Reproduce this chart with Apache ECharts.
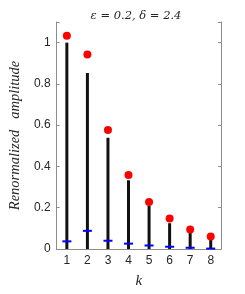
<!DOCTYPE html>
<html><head><meta charset="utf-8">
<script src="https://cdn.jsdelivr.net/npm/echarts@6/dist/echarts.min.js"></script>
<style>html,body{margin:0;padding:0;background:#fff}#c{width:245px;height:294px}</style>
</head><body><div id="c"></div>
<script>
var categories = ['1','2','3','4','5','6','7','8'];
var stemValues = [1.0, 0.853, 0.539, 0.333, 0.209, 0.125, 0.079, 0.046];
var redValues = [1.033, 0.942, 0.577, 0.358, 0.228, 0.148, 0.094, 0.060];
var blueValues = [0.037, 0.088, 0.040, 0.026, 0.017, 0.011, 0.006, 0.002];
var yTicks = [0, 0.2, 0.4, 0.6, 0.8, 1];

var axisCol = '#8c8c8c';
var labCol = '#262626';
var chart = echarts.init(document.getElementById('c'), null, {renderer:'canvas'});
chart.setOption({
  animation: false,
  title: {
    text: 'ε = 0.2, δ = 2.4', left: 131, top: 5, textAlign: 'center',
    textStyle: {fontFamily: 'DejaVu Serif', fontStyle: 'italic', fontWeight: 'normal', fontSize: 11.5, color: '#262626'}
  },
  grid: {left: 40, right: 24, top: 22, bottom: 35},
  xAxis: [{
    type: 'category', data: categories, position: 'bottom',
    name: 'k', nameLocation: 'middle', nameGap: 25,
    nameTextStyle: {fontFamily: 'Liberation Serif', fontStyle: 'italic', fontSize: 15, color: '#262626'},
    axisLine: {lineStyle: {color: axisCol, width: 1}},
    axisTick: {inside: true, alignWithLabel: true, length: 3, lineStyle: {color: axisCol}},
    axisLabel: {color: labCol, fontSize: 12, fontFamily: 'Liberation Sans', margin: 6},
    splitLine: {show: false}
  }, {
    type: 'category', data: categories, position: 'top',
    axisLine: {lineStyle: {color: axisCol, width: 1}},
    axisTick: {inside: true, alignWithLabel: true, length: 3, lineStyle: {color: axisCol}},
    axisLabel: {show: false}
  }],
  yAxis: [{
    type: 'value', min: 0, max: 1.1, interval: 0.2, position: 'left',
    name: 'Renormalized   amplitude', nameLocation: 'middle', nameGap: 30,
    nameTextStyle: {fontFamily: 'Liberation Serif', fontStyle: 'italic', fontSize: 14.5, color: '#262626'},
    axisLine: {show: true, lineStyle: {color: axisCol, width: 1}},
    axisTick: {show: true, inside: true, length: 3, lineStyle: {color: axisCol}},
    axisLabel: {color: labCol, fontSize: 12, fontFamily: 'Liberation Sans', margin: 6,
      formatter: function(v){ var r = Math.round(v*10)/10; return (yTicks.indexOf(r) >= 0 && v <= 1.0001) ? String(r) : ''; }},
    splitLine: {show: false}
  }, {
    type: 'value', min: 0, max: 1.1, interval: 0.2, position: 'right',
    axisLine: {show: true, lineStyle: {color: axisCol, width: 1}},
    axisTick: {show: true, inside: true, length: 3, lineStyle: {color: axisCol}},
    axisLabel: {show: false}, splitLine: {show: false}
  }],
  series: [{
    type: 'bar', data: stemValues, barWidth: 3, itemStyle: {color: '#111'}, z: 2
  }, {
    type: 'scatter', data: redValues, symbol: 'circle', symbolSize: 8, itemStyle: {color: '#ff0000', opacity: 1}, z: 3
  }, {
    type: 'scatter', data: blueValues, symbol: 'rect', symbolSize: [9, 2], itemStyle: {color: '#0000ff', opacity: 1}, z: 4
  }]
});
</script></body></html>
